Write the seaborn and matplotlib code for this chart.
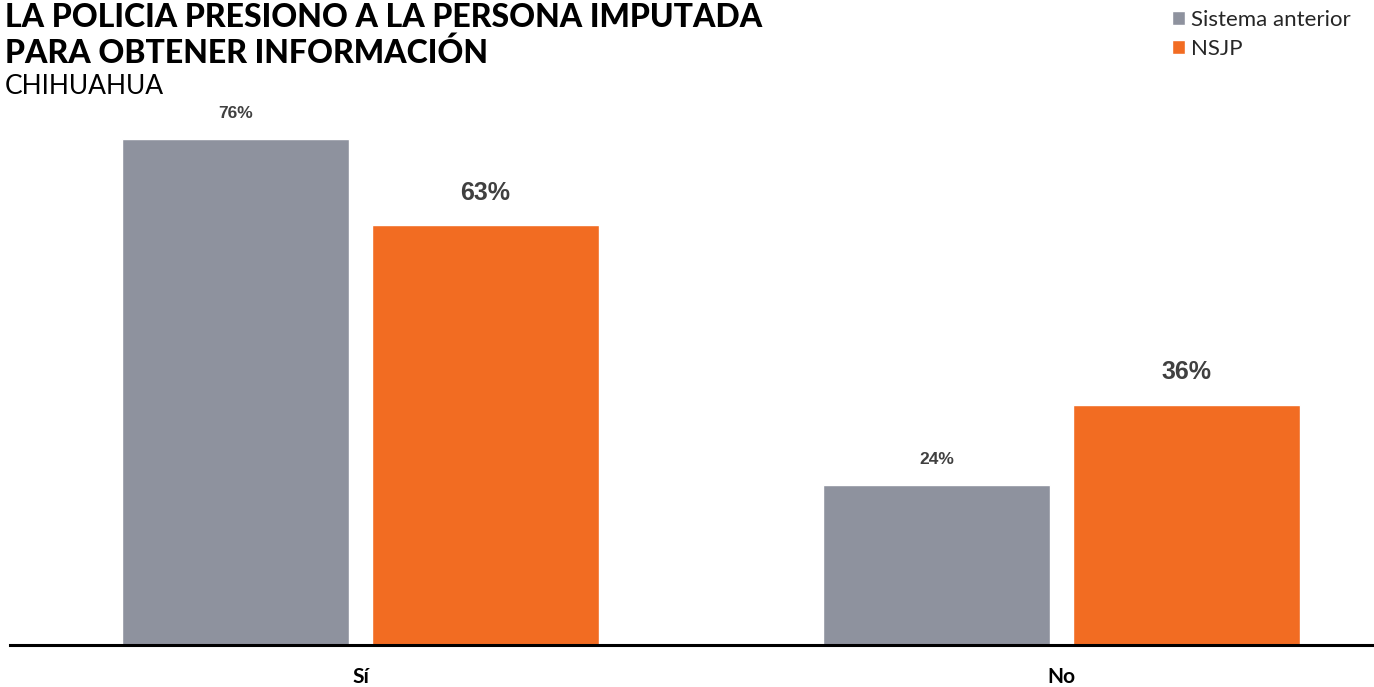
import matplotlib
matplotlib.use("Agg")
import matplotlib.pyplot as plt
import seaborn as sns
import pandas as pd

categories = ["Sí", "No"]
series_names = ["Sistema anterior", "NSJP"]
sistema_anterior = [76, 24]
nsjp = [63, 36]
colors = ["#8E929E", "#F26C22"]

title = "LA POLICIA PRESIONO A LA PERSONA IMPUTADA\nPARA OBTENER INFORMACIÓN"
subtitle = "CHIHUAHUA"

df = pd.DataFrame({
    "cat": categories * 2,
    "serie": [series_names[0]] * 2 + [series_names[1]] * 2,
    "val": sistema_anterior + nsjp,
})

sns.set_theme(style="white")
plt.rcParams["font.family"] = ["Lato", "DejaVu Sans"]

W, H = 1374, 687
fig = plt.figure(figsize=(W / 100, H / 100), dpi=100)
ax = fig.add_axes([10 / W, 42 / H, 1 - 10 / W, 645 / H])

sns.barplot(data=df, x="cat", y="val", hue="serie", order=categories,
            hue_order=series_names, palette=colors, width=0.713, gap=0.09,
            saturation=1, ax=ax, legend=True)

ax.set_xlim(-0.5, 1.446)
ax.set_ylim(0, 645 / 6.66)
ax.set_xlabel("")
ax.set_ylabel("")
ax.set_yticks([])
for s in ["top", "right", "left"]:
    ax.spines[s].set_visible(False)
ax.spines["bottom"].set_color("black")
ax.spines["bottom"].set_linewidth(2.2)
ax.tick_params(axis="x", length=0, pad=16)
for t in ax.get_xticklabels():
    t.set_fontweight("bold")
    t.set_fontsize(15)
    t.set_color("black")

# value labels
for i, cont in enumerate(ax.containers):
    big = (i == 1)
    for bar, v in zip(cont, cont.datavalues):
        x = bar.get_x() + bar.get_width() / 2
        y = bar.get_height()
        ax.annotate(f"{v:.0f}%", (x, y), xytext=(0, 13 if not big else 15),
                    textcoords="offset points", ha="center", va="bottom",
                    fontsize=12.5 if not big else 18, fontweight="bold",
                    color="#404040", family=["Liberation Sans", "DejaVu Sans"])

# legend
handles, labels = ax.get_legend_handles_labels()
ax.legend(handles, labels, loc="upper left", bbox_to_anchor=(1172 / W, 1 - 10 / H),
          bbox_transform=fig.transFigure, frameon=False, fontsize=16,
          handlelength=0.6, handleheight=0.6, handletextpad=0.25,
          labelspacing=0.4, borderaxespad=0, borderpad=0)

fig.text(5 / W, 1 - 3 / H, title, ha="left", va="top", fontsize=23,
         fontweight="black", color="black", linespacing=1.2)
fig.text(5 / W, 1 - 74 / H, subtitle, ha="left", va="top", fontsize=19,
         color="black")

fig.savefig("out.png", dpi=100)
